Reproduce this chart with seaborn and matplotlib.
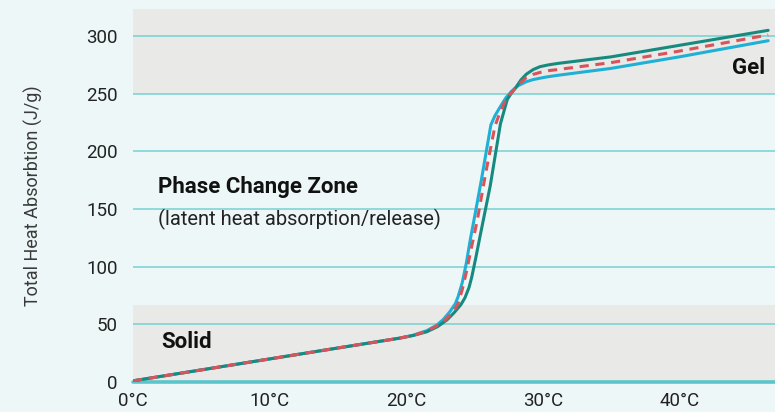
import numpy as np
import pandas as pd
import matplotlib
matplotlib.use('Agg')
import matplotlib.pyplot as plt
import seaborn as sns

# temperature (°C) / total heat absorption (J/g)
teal_x = [0, 5, 10, 15, 19.5, 20.5, 21.5, 22.3, 23.0, 23.5, 24.0, 24.3, 24.6, 24.8, 25.1, 25.4,
          26.15, 26.9, 27.4, 27.7, 28.0, 28.4, 28.8, 29.3, 29.8, 30.4, 31.1, 35, 40, 46.5]
teal_y = [1, 10.5, 20, 29.5, 38, 40.3, 43.5, 48, 54, 60, 67, 73, 82, 91, 108, 126,
          170, 224, 245, 250.5, 255, 262, 267, 271, 273.5, 275, 276.3, 282, 292, 305]

cyan_x = [0, 5, 10, 15, 19.5, 20.5, 21.5, 22.2, 22.7, 23.2, 23.6, 23.8, 24.1, 24.4, 24.7, 25.05,
          25.5, 26.2, 26.5, 26.9, 27.3, 27.7, 28.2, 28.8, 29.3, 29.8, 30.4, 31.1, 35, 40, 46.5]
cyan_y = [1, 10.5, 20, 29.5, 38, 40.5, 44.5, 49, 54, 61, 68, 74, 86, 103, 124, 146,
          175, 223, 231, 239, 246.5, 252, 257, 260.5, 262.3, 263.5, 264.8, 266, 272, 282, 296]

red_x = [0, 5, 10, 15, 19.5, 20.5, 21.5, 22.2, 22.7, 23.2, 23.6, 23.8, 24.1, 24.4, 24.8, 25.2,
         25.8, 26.5, 26.9, 27.3, 27.7, 28.0, 28.4, 28.8, 29.3, 29.8, 30.4, 31.1, 35, 40, 46.5]
red_y = [1, 10.5, 20, 29.5, 38, 40.4, 44, 48.5, 52, 58, 64, 68, 80, 95, 118, 140,
         180, 222, 235, 245, 251, 255, 260, 264, 266.8, 268.5, 270, 271, 277, 287, 301]

y_ticks = [0, 50, 100, 150, 200, 250, 300]
x_ticks = [0, 10, 20, 30, 40]
x_labels = ['0°C', '10°C', '20°C', '30°C', '40°C']

bg = '#eef7f8'
band = '#e9e9e7'
grid_c = '#7fd3d4'

sns.set_theme(style='white')
plt.rcParams['font.family'] = ['Roboto', 'DejaVu Sans']

fig = plt.figure(figsize=(7.75, 4.12), dpi=100, facecolor=bg)
ax = fig.add_axes([133 / 775, 1 - 382 / 412, 1 - 133 / 775, (382 - 9) / 412])
ax.set_facecolor(bg)
ax.set_xlim(0, 47)
ax.set_ylim(0, 323.5)

# shaded zones
ax.axhspan(0, 67, color=band, zorder=0, lw=0)
ax.axhspan(250, 323.5, color=band, zorder=0, lw=0)
for t in y_ticks[1:]:
    ax.axhline(t, color=grid_c, lw=1.2, zorder=1)
ax.axhline(0, color='#5bc5cc', lw=2.6, zorder=1, clip_on=False)

df_cyan = pd.DataFrame({'x': cyan_x, 'y': cyan_y})
df_teal = pd.DataFrame({'x': teal_x, 'y': teal_y})
df_red = pd.DataFrame({'x': red_x, 'y': red_y})
sns.lineplot(data=df_cyan, x='x', y='y', ax=ax, color='#1fb0d6', lw=2.2, sort=False, zorder=3)
sns.lineplot(data=df_teal, x='x', y='y', ax=ax, color='#178a80', lw=2.2, sort=False, zorder=4)
sns.lineplot(data=df_red, x='x', y='y', ax=ax, color='#d9545a', lw=2.2, sort=False, zorder=5,
             linestyle=(0, (3, 2.2)))

for s in ax.spines.values():
    s.set_visible(False)
ax.set_yticks(y_ticks)
ax.set_xticks(x_ticks)
ax.set_xticklabels(x_labels)
ax.tick_params(axis='both', length=0, labelsize=13.5, colors='#222222')
ax.tick_params(axis='y', pad=11)
ax.tick_params(axis='x', pad=7)
ax.set_xlabel('')
ax.set_ylabel('Total Heat Absorbtion (J/g)', fontsize=13, color='#3a3a3a', labelpad=31)

ax.text(1.8, 169, 'Phase Change Zone', fontsize=16, fontweight='bold', color='#111111', va='center')
ax.text(1.8, 141, '(latent heat absorption/release)', fontsize=14.5, color='#222222', va='center')
ax.text(2.1, 35, 'Solid', fontsize=16, fontweight='bold', color='#111111', va='center')
ax.text(46.3, 272, 'Gel', fontsize=16, fontweight='bold', color='#111111', va='center', ha='right')

fig.savefig('out.png', dpi=100, facecolor=bg)
